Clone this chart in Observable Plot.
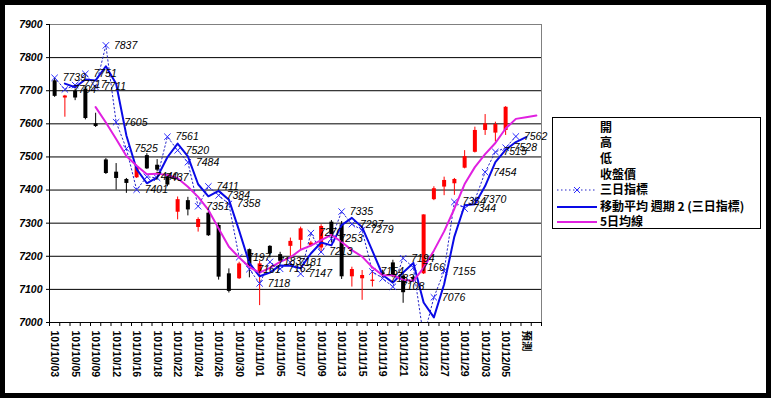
<!DOCTYPE html>
<html>
<head>
<meta charset="utf-8">
<script src="https://cdn.jsdelivr.net/npm/d3@7"></script>
<script src="https://cdn.jsdelivr.net/npm/@observablehq/plot@0.6"></script>
<style>
  html, body { margin: 0; padding: 0; background: #000; }
  #wrap { position: relative; width: 771px; height: 398px; background: #fff; overflow: hidden; }
  #frame { position: absolute; left: 0; top: 0; width: 771px; height: 398px; box-sizing: border-box; border: 5px solid #000; pointer-events: none; }
  #legend { position: absolute; left: 552px; top: 117px; }
  svg { display: block; }
</style>
</head>
<body>
<div id="wrap">
  <div id="chart"></div>
  <div id="legend"></div>
  <div id="frame"></div>
</div>
<script>
// ---- categories (trading days, ROC calendar) ----
const categories = [
  "101/10/03","101/10/04","101/10/05","101/10/08","101/10/09","101/10/11","101/10/12","101/10/15",
  "101/10/16","101/10/17","101/10/18","101/10/19","101/10/22","101/10/23","101/10/24","101/10/25",
  "101/10/26","101/10/29","101/10/30","101/10/31","101/11/01","101/11/02","101/11/05","101/11/06",
  "101/11/07","101/11/08","101/11/09","101/11/12","101/11/13","101/11/14","101/11/15","101/11/16",
  "101/11/19","101/11/20","101/11/21","101/11/22","101/11/23","101/11/26","101/11/27","101/11/28",
  "101/11/29","101/11/30","101/12/03","101/12/04","101/12/05","101/12/06","預測","101/12/07"
];
const tickLabels = [
  "101/10/03","101/10/05","101/10/09","101/10/12","101/10/16","101/10/18","101/10/22","101/10/24",
  "101/10/26","101/10/30","101/11/01","101/11/05","101/11/07","101/11/09","101/11/13","101/11/15",
  "101/11/19","101/11/21","101/11/23","101/11/27","101/11/29","101/12/03","101/12/05","預測"
];
const yTicks = [7000,7100,7200,7300,7400,7500,7600,7700,7800,7900];

// ---- series: 開 / 高 / 低 / 收盤價 ----
const open  = [7730,7678,7698,7705,7600,7491,7454,7432,7437,7504,7475,7440,7333,7368,7287,7330,
               7293,7147,7132,7220,7152,7230,7205,7230,7248,7232,7225,7303,7295,7138,7132,7124,
               7150,7180,7140,7135,7147,7371,7409,7419,7466,7514,7580,7572,7580];
const high  = [7738,7686,7705,7710,7632,7495,7480,7435,7475,7510,7492,7445,7379,7378,7316,7335,
               7300,7162,7182,7222,7185,7232,7212,7255,7288,7245,7295,7308,7305,7167,7157,7157,
               7158,7188,7152,7140,7325,7410,7439,7435,7519,7590,7628,7605,7652];
const low   = [7680,7620,7670,7612,7589,7447,7400,7390,7435,7462,7455,7410,7310,7322,7273,7260,
               7128,7089,7130,7135,7051,7195,7178,7200,7218,7228,7210,7240,7130,7107,7067,7107,
               7135,7135,7058,7120,7145,7368,7383,7384,7464,7512,7565,7545,7565];
// closes (last three are the predicted values feeding the 5-day line)
const close = [7683,7684,7678,7616,7592,7450,7435,7420,7469,7464,7460,7415,7371,7340,7311,7262,
               7137,7094,7177,7168,7177,7208,7185,7245,7283,7240,7290,7265,7138,7160,7142,7128,
               7145,7138,7090,7128,7325,7404,7429,7432,7501,7580,7600,7598,7650,7647,7605,7625];
// ---- 三日指標 (last value: forecast, used only by the moving average) ----
const threeDay = [7739,7704,7717,7751,7711,7837,7605,7525,7401,7440,7437,7561,7520,7484,7351,7411,
                  7384,7358,7197,7161,7118,7183,7162,7181,7147,7270,7213,7253,7335,7297,7279,7154,
                  7133,7108,7194,7166,6955,7076,7155,7364,7344,7370,7454,7515,7528,7562,7558];

const candles = open.map((o, i) => ({i, o, h: high[i], l: low[i], c: close[i]}));
const closes = close.map((c, i) => ({i, c}));
const td = threeDay.map((v, i) => ({i, v}));
const tdShown = td.filter(d => d.i < threeDay.length - 1);
const X = d => d.i + 0.5;
const candleColor = d => d.c >= d.o ? "#ff0000" : "#000000";
const FONT = "'Liberation Sans', Arial, 'Noto Sans CJK TC', sans-serif";

const chart = Plot.plot({
  width: 771, height: 398,
  marginLeft: 49, marginRight: 230, marginTop: 24, marginBottom: 76,
  x: {type: "linear", domain: [0, categories.length]},
  y: {domain: [7000, 7900]},
  style: {background: "transparent", fontFamily: FONT, fontSize: "10px", color: "#000"},
  marks: [
    Plot.ruleY(yTicks.filter(v => v > 7000 && v < 7900), {stroke: "#000", strokeWidth: 1}),
    Plot.ruleY([7900], {stroke: "#808080"}),
    Plot.ruleX([categories.length], {stroke: "#808080"}),
    Plot.ruleX([0], {stroke: "#000"}),
    Plot.ruleY([7000], {stroke: "#000"}),
    // candlesticks
    Plot.ruleX(candles, {x: X, y1: "l", y2: "h", stroke: candleColor, strokeWidth: 1}),
    Plot.ruleX(candles, {x: X, y1: "o", y2: "c", stroke: candleColor, strokeWidth: 4}),
    // 三日指標
    Plot.line(tdShown, {x: X, y: "v", stroke: "#2626c8", strokeWidth: 1, strokeDasharray: "1.5,2.5", clip: true}),
    Plot.dot(tdShown, {x: X, y: "v", symbol: "times", r: 3, stroke: "#2a2aff", strokeWidth: 1, clip: true}),
    // 移動平均 週期2
    Plot.line(td, Plot.windowY({k: 2, anchor: "end", strict: true}, {x: X, y: "v", stroke: "#0a0ae6", strokeWidth: 2, clip: true})),
    // 5日均線
    Plot.line(closes, Plot.windowY({k: 5, anchor: "end", strict: true}, {x: X, y: "c", stroke: "#e020e0", strokeWidth: 2, clip: true})),
    // data labels
    Plot.text(tdShown.filter(d => d.v >= 7000), {x: X, y: "v", text: d => String(d.v), dx: 8, textAnchor: "start",
      fontSize: 10.5, fontStyle: "italic", fill: "#000"}),
    // axes
    Plot.axisY(yTicks, {tickSize: 3, tickPadding: 4, fontSize: 10.5, fontStyle: "italic", fontWeight: "bold",
      tickFormat: d => String(d), label: null}),
    Plot.axisX(d3.range(0, categories.length + 1), {tickSize: 4, tickFormat: () => "", label: null}),
    Plot.axisX(d3.range(0, categories.length, 2).map(i => i + 0.5), {
      tickSize: 0, tickPadding: 8, tickRotate: 90, fontSize: 10.5, fontWeight: "bold",
      tickFormat: d => tickLabels[Math.round((d - 0.5) / 2)], label: null})
  ]
});
document.getElementById("chart").appendChild(chart);

// ---- legend ----
const legendItems = [
  {name: "開"}, {name: "高"}, {name: "低"}, {name: "收盤價"},
  {name: "三日指標", kind: "dots"},
  {name: "移動平均  週期 2 (三日指標)", kind: "ma"},
  {name: "5日均線", kind: "ma5"}
];
const rowY = [11, 26, 42, 58, 73, 90, 105];
const lg = d3.select("#legend").append("svg").attr("width", 209).attr("height", 112);
lg.append("rect").attr("x", 0.5).attr("y", 0.5).attr("width", 208).attr("height", 111)
  .attr("fill", "#fff").attr("stroke", "#000");
legendItems.forEach((it, k) => {
  const y = rowY[k];
  if (it.kind === "dots") {
    lg.append("line").attr("x1", 5).attr("x2", 45).attr("y1", y).attr("y2", y)
      .attr("stroke", "#2626c8").attr("stroke-dasharray", "1.5,2.5");
    lg.append("path").attr("d", `M${22},${y-3}L${28},${y+3}M${22},${y+3}L${28},${y-3}`).attr("stroke", "#2a2aff");
  } else if (it.kind === "ma") {
    lg.append("line").attr("x1", 5).attr("x2", 45).attr("y1", y).attr("y2", y)
      .attr("stroke", "#0a0ae6").attr("stroke-width", 2);
  } else if (it.kind === "ma5") {
    lg.append("line").attr("x1", 5).attr("x2", 45).attr("y1", y).attr("y2", y)
      .attr("stroke", "#e020e0").attr("stroke-width", 2);
  }
  lg.append("text").attr("x", 48).attr("y", y).attr("dy", "0.36em")
    .attr("font-family", "'Noto Sans CJK TC', sans-serif").attr("font-size", 12)
    .attr("font-weight", "bold").attr("fill", "#000").text(it.name);
});
</script>
</body>
</html>
